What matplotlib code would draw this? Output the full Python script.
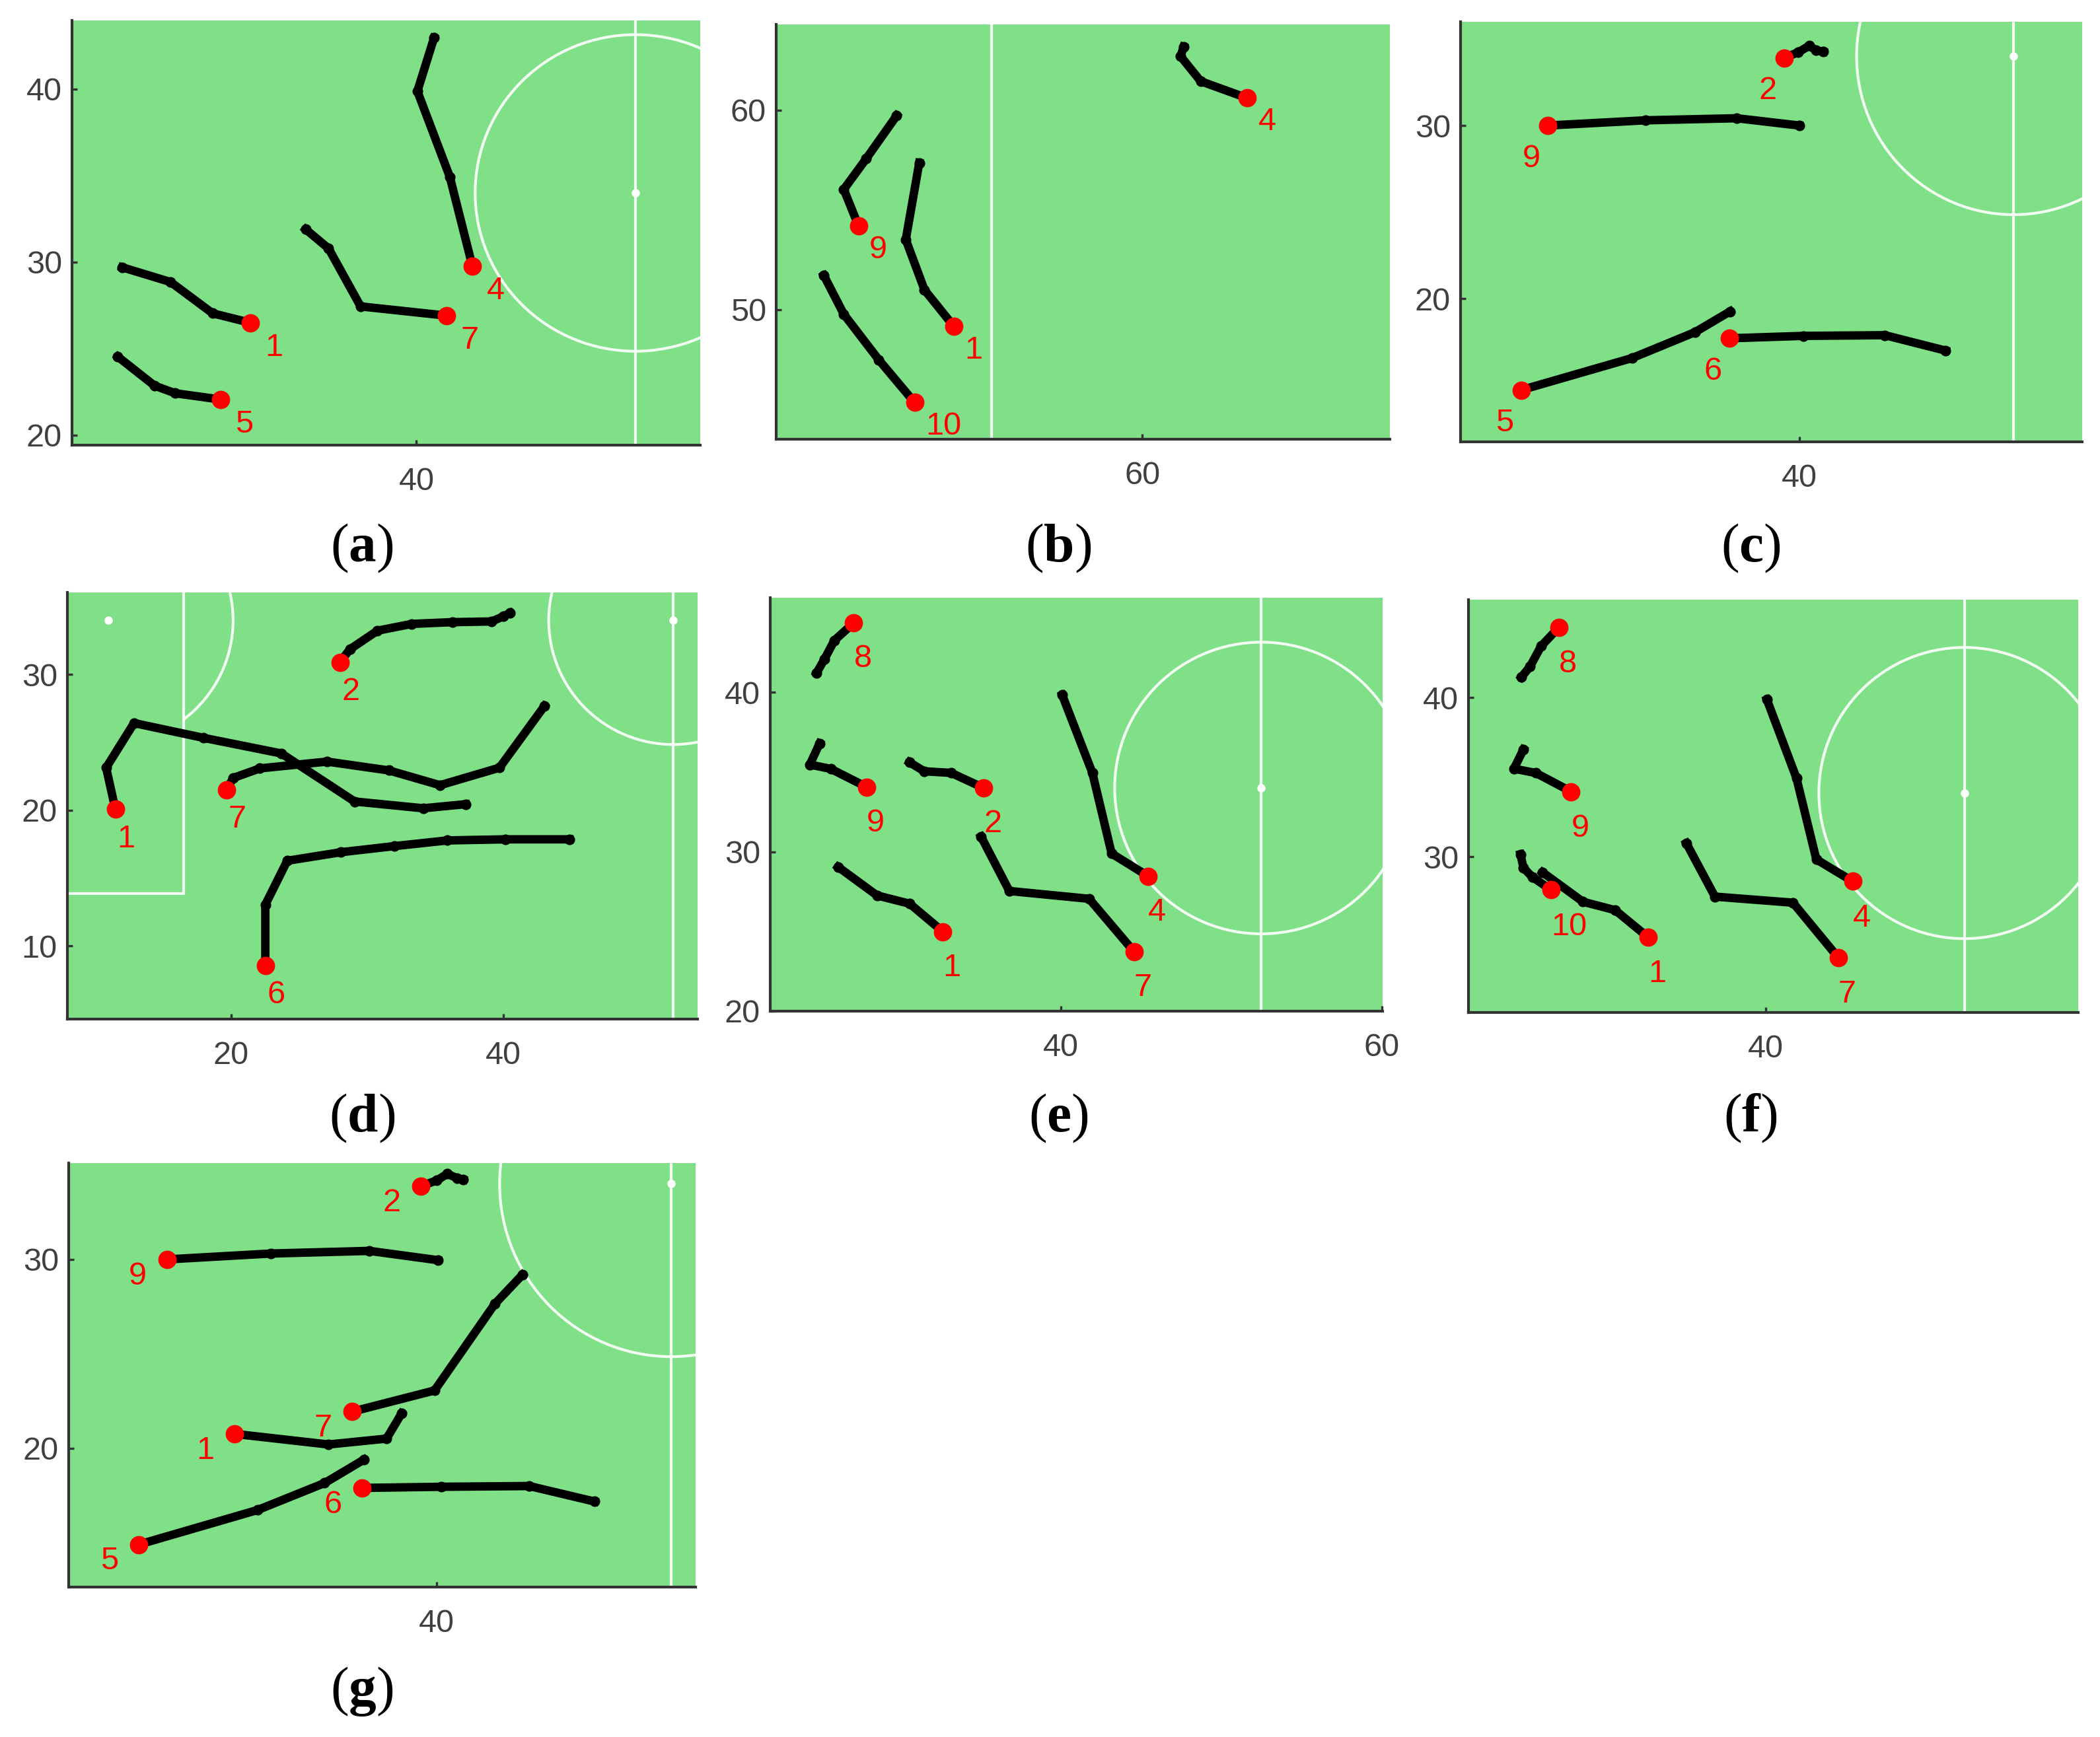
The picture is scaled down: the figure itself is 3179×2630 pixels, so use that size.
"""Player trajectories on a pitch, seven panels (a)-(g)."""

import matplotlib.pyplot as plt
from matplotlib import patches

plt.rcParams['mathtext.fontset'] = 'custom'
plt.rcParams['mathtext.rm'] = 'Liberation Serif'
plt.rcParams['mathtext.bf'] = 'Liberation Serif:bold'

# ---- data: index 0 of every track is the current (red) position ----
a_players = ['1', '5', '7', '4']
a_x = [[30.5, 28.36, 25.96, 23.2], [28.8, 26.22, 25.04, 22.95],
       [41.7, 36.81, 34.98, 33.67], [43.19, 41.9, 40.05, 41.0]]
a_y = [[26.5, 27.04, 28.85, 29.7], [22.06, 22.42, 22.86, 24.53],
       [26.91, 27.44, 30.79, 31.9], [29.77, 34.94, 39.88, 42.96]]

b_players = ['9', '1', '10', '4']
b_x = [[45.89, 45.16, 46.27, 47.79], [50.63, 49.17, 48.24, 48.91],
       [48.68, 46.9, 45.16, 44.17], [65.2, 62.9, 61.9, 62.05]]
b_y = [[54.2, 56.03, 57.56, 59.73], [49.16, 50.99, 53.51, 57.36],
       [45.34, 47.48, 49.77, 51.71], [60.61, 61.45, 62.7, 63.18]]

c_players = ['2', '9', '5', '6']
c_x = [[39.13, 39.95, 40.59, 40.97, 41.41], [25.33, 31.03, 36.36, 40.0],
       [23.79, 30.26, 33.92, 35.97], [35.92, 40.26, 45.0, 48.54]]
c_y = [[33.91, 34.23, 34.61, 34.35, 34.26], [30.0, 30.3, 30.42, 30.0],
       [14.72, 16.57, 18.06, 19.26], [17.71, 17.85, 17.89, 17.0]]

d_players = ['2', '1', '7', '6']
d_x = [[28.0, 28.74, 30.76, 33.28, 36.3, 39.16, 40.0, 40.5],
       [11.5, 10.82, 12.87, 17.98, 23.7, 29.08, 34.12, 37.24],
       [19.66, 20.17, 22.12, 27.06, 31.6, 35.36, 39.73, 43.03],
       [22.52, 22.52, 24.13, 28.07, 32.0, 35.9, 40.17, 44.87]]
d_y = [[30.92, 31.87, 33.24, 33.74, 33.87, 33.92, 34.29, 34.54],
       [20.07, 23.14, 26.43, 25.34, 24.19, 20.65, 20.15, 20.45],
       [21.52, 22.39, 23.09, 23.59, 22.94, 21.85, 23.14, 27.68],
       [8.55, 13.04, 16.28, 16.91, 17.36, 17.78, 17.86, 17.86]]

e_players = ['8', '9', '2', '1', '7', '4']
e_x = [[27.08, 25.87, 25.26, 24.76], [27.89, 25.65, 24.34, 24.95],
       [35.19, 33.15, 31.47, 30.55], [32.64, 30.57, 28.53, 26.1],
       [44.56, 41.76, 36.78, 35.02], [45.45, 43.16, 41.96, 40.08]]
e_y = [[44.36, 43.26, 42.1, 41.22], [34.06, 35.2, 35.47, 36.8],
       [34.0, 34.95, 35.05, 35.62], [24.99, 26.74, 27.26, 29.05],
       [23.73, 27.05, 27.54, 30.95], [28.46, 29.89, 34.95, 39.83]]

f_players = ['8', '9', '10', '1', '7', '4']
f_x = [[26.98, 25.87, 25.18, 24.63], [27.76, 25.54, 24.16, 24.76],
       [26.51, 25.32, 24.76, 24.57], [32.6, 30.53, 28.5, 25.96],
       [44.57, 41.72, 36.81, 35.01], [45.48, 43.19, 41.94, 40.08]]
f_y = [[44.4, 43.23, 41.96, 41.28], [34.09, 35.26, 35.53, 36.74],
       [27.91, 28.72, 29.3, 30.15], [24.94, 26.64, 27.17, 29.02],
       [23.66, 27.11, 27.49, 30.85], [28.45, 29.83, 34.94, 39.87]]

g_players = ['2', '9', '7', '1', '5', '6']
g_x = [[39.15, 40.0, 40.56, 41.1, 41.41], [25.61, 31.15, 36.41, 40.05],
       [35.49, 39.88, 43.1, 44.56], [29.22, 34.22, 37.32, 38.12],
       [24.1, 30.44, 34.02, 36.1], [36.02, 40.24, 44.93, 48.41]]
g_y = [[33.88, 34.18, 34.53, 34.29, 34.22], [30.0, 30.31, 30.45, 29.96],
       [21.94, 23.06, 27.65, 29.18], [20.76, 20.2, 20.51, 21.84],
       [14.9, 16.73, 18.16, 19.39], [17.9, 17.96, 18.0, 17.18]]

# ---- layout (figure px 3179 x 2630) ----
W, H = 3179, 2630
panels = [
    # name, players, xs, ys, (left, right, top, bottom px), xlim, ylim, label offset, ha
    ('a', a_players, a_x, a_y, (109, 1060, 31, 674), (20.33, 56.2), (19.42, 43.97), (8, -5.5), 'left'),
    ('b', b_players, b_x, b_y, (1175, 2104, 37, 665), (41.8, 72.3), (43.5, 64.3), (6, -5), 'left'),
    ('c', c_players, c_x, c_y, (2211, 3152, 33, 669), (20.26, 56.5), (11.73, 35.99), (-4, -10), 'right'),
    ('d', d_players, d_x, d_y, (102, 1056, 897, 1543), (7.97, 54.29), (4.61, 36.06), (1, -8), 'left'),
    ('e', e_players, e_x, e_y, (1166, 2093, 905, 1531), (21.87, 60.06), (20.0, 45.94), (0, -11.5), 'left'),
    ('f', f_players, f_x, f_y, (2223, 3146, 908, 1533), (21.3, 59.67), (20.21, 46.15), (0, -12), 'left'),
    ('g', g_players, g_x, g_y, (104, 1053, 1761, 2403), (20.37, 53.8), (12.65, 35.1), (-11, -1), 'right'),
]
captions = {'a': (548, 830), 'b': (1602, 830), 'c': (2650, 830),
            'd': (548, 1693), 'e': (1602, 1693), 'f': (2650, 1693),
            'g': (548, 2561)}

green = '#80E088'
line_w = dict(color='white', lw=1.5, alpha=0.9, zorder=1)


def draw_pitch(ax):
    ax.plot([52.5, 52.5], [0, 68], **line_w)
    ax.add_patch(patches.Circle((52.5, 34), 9.15, fill=False, ec='white', lw=1.5, alpha=0.9, zorder=1))
    ax.plot(52.5, 34, 'o', color='white', ms=3.5, zorder=1)
    # left penalty area, spot and arc
    ax.add_patch(patches.Rectangle((0, 13.84), 16.5, 40.32, fill=False, ec='white', lw=1.5, alpha=0.9, zorder=1))
    ax.plot(11, 34, 'o', color='white', ms=3.5, zorder=1)
    ax.add_patch(patches.Arc((11, 34), 18.3, 18.3, theta1=-53.0, theta2=53.0,
                             ec='white', lw=1.5, alpha=0.9, zorder=1))
    ax.add_patch(patches.Rectangle((0, 0), 105, 68, fill=False, ec='white', lw=1.5, alpha=0.9, zorder=1))


fig = plt.figure(figsize=(W / 200, H / 200), dpi=200)

for name, players, xs, ys, box, xlim, ylim, off, ha in panels:
    l, r, t, b = box
    ax = fig.add_axes([l / W, 1 - b / H, (r - l) / W, (b - t) / H])
    ax.set_facecolor(green)
    draw_pitch(ax)
    for p, px, py in zip(players, xs, ys):
        ax.plot(px, py, '-o', color='black', lw=4.6, ms=4.8, zorder=3)
        ax.plot(px[0], py[0], 'o', color='red', ms=9, zorder=4)
        ax.annotate(p, (px[0], py[0]), xytext=off, textcoords='offset points',
                    color='red', fontsize=17.5, family='Liberation Sans',
                    ha=ha, va='top', zorder=5)
    ax.set_xlim(*xlim)
    ax.set_ylim(*ylim)
    ax.set_xticks([v for v in range(0, 120, 20) if xlim[0] <= v <= xlim[1]])
    ax.set_yticks([v for v in range(0, 80, 10) if ylim[0] <= v <= ylim[1] + 1e-9])
    for s in ('top', 'right'):
        ax.spines[s].set_visible(False)
    for s in ('left', 'bottom'):
        ax.spines[s].set_color('#333333')
        ax.spines[s].set_linewidth(1.5)
        ax.spines[s].set_zorder(6)
    ax.tick_params(direction='in', length=3, width=1.2, color='#333333',
                   labelsize=17.5, labelcolor='#404040')
    ax.tick_params(axis='x', pad=12)
    ax.tick_params(axis='y', pad=5.5)
    for lab in ax.get_xticklabels() + ax.get_yticklabels():
        lab.set_family('Liberation Sans')

    cx, cy = captions[name]
    fig.text(cx / W, 1 - cy / H, '($\\mathbf{' + name + '}$)', ha='center', va='center',
             fontsize=30, family='Liberation Serif')

fig.savefig('out.png', dpi=200, facecolor='white')
